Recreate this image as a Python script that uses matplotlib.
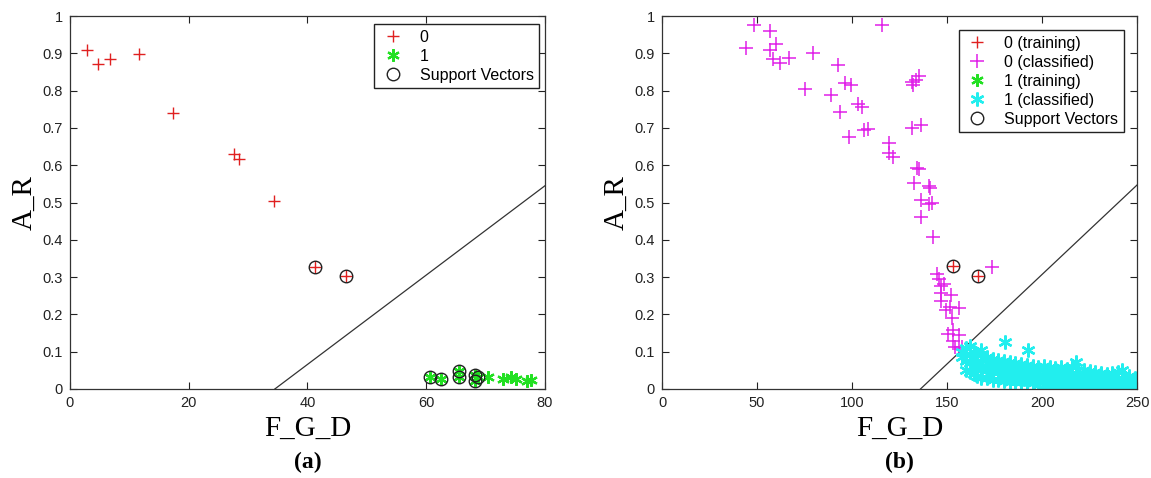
import matplotlib.pyplot as plt

# (a) training data
train0_x = [2.8, 4.8, 6.7, 11.6, 17.4, 27.6, 28.5, 34.4, 41.3, 46.5]
train0_y = [0.908, 0.872, 0.886, 0.897, 0.740, 0.630, 0.616, 0.504, 0.328, 0.302]
train1_x = [60.6, 62.5, 65.5, 65.5, 68.2, 68.2, 68.8, 70.4, 72.9, 74.2, 75.2, 76.9, 77.7]
train1_y = [0.032, 0.027, 0.048, 0.031, 0.038, 0.022, 0.033, 0.031, 0.026, 0.031, 0.028, 0.022, 0.025]
sv_a_x = [41.3, 46.5, 60.6, 62.5, 65.5, 65.5, 68.2, 68.2, 68.8]
sv_a_y = [0.328, 0.302, 0.032, 0.027, 0.048, 0.031, 0.038, 0.022, 0.033]
boundary_a_x = [34.5, 80.0]
boundary_a_y = [0.0, 0.545]

# (b) training support vectors and classified samples
sv_b_x = [153.3, 166.3]
sv_b_y = [0.331, 0.304]
class0_x = [44.4, 48.5, 56.9, 56.9, 59.8, 58.4, 62.3, 67.0, 75.1, 79.5,
            88.7, 92.5, 93.9, 96.4, 99.6, 98.3, 102.9, 105.4, 106.3, 108.2,
            115.9, 119.2, 119.7, 121.3, 131.6, 131.8, 132.2, 132.8, 133.5, 135.4,
            134.1, 135.1, 136.4, 136.4, 136.4, 140.4, 141.2, 140.4, 142.1, 142.7,
            144.6, 145.6, 146.9, 146.6, 148.5, 146.9, 149.4, 151.9, 151.3, 156.1,
            152.7, 150.4, 153.3, 156.5, 153.3, 154.2, 156.1, 157.7, 173.4]
class0_y = [0.915, 0.975, 0.959, 0.910, 0.924, 0.886, 0.874, 0.888, 0.805, 0.901,
            0.788, 0.870, 0.743, 0.821, 0.814, 0.676, 0.765, 0.755, 0.694, 0.696,
            0.977, 0.660, 0.633, 0.621, 0.700, 0.822, 0.814, 0.551, 0.829, 0.839,
            0.593, 0.589, 0.707, 0.507, 0.462, 0.545, 0.540, 0.496, 0.498, 0.407,
            0.309, 0.294, 0.275, 0.257, 0.282, 0.237, 0.211, 0.251, 0.221, 0.217,
            0.190, 0.148, 0.159, 0.145, 0.128, 0.112, 0.108, 0.112, 0.328]
class1_x = [158, 158,
            160, 160, 160, 160, 162, 162, 162, 162, 164, 164, 164, 164,
            166, 166, 166, 166, 168, 168, 168, 168, 168,
            171, 171, 171, 171, 174, 174, 174, 174, 177, 177, 177, 177,
            180, 180, 180, 180, 183, 183, 183, 183, 186, 186, 186, 186,
            189, 189, 189, 189, 192, 192, 192, 192, 195, 195, 195, 195,
            198, 198, 198, 198, 201, 201, 201, 201, 204, 204, 204, 204,
            207, 207, 207, 207, 210, 210, 210, 210, 213, 213, 213, 213,
            216, 216, 216, 216, 218, 219, 219, 219, 219, 222, 222, 222, 222,
            225, 225, 225, 225, 228, 228, 228, 228, 231, 231, 231, 231,
            234, 234, 234, 234, 237, 237, 237, 237, 240, 240, 240, 240, 242,
            243, 243, 243, 243, 246, 246, 246, 246, 249, 249, 249, 249,
            172.5, 178.5, 184.5, 190.5, 196.5, 202.5, 208.5, 214.5, 220.5,
            226.5, 232.5, 238.5, 244.5, 250,
            172.5, 178.5, 184.5, 190.5, 196.5, 202.5, 208.5, 214.5, 220.5,
            226.5, 232.5, 238.5, 244.5, 250,
            180.5, 192.8]
class1_y = [0.085, 0.100,
            0.050, 0.075, 0.095, 0.110, 0.045, 0.070, 0.090, 0.115, 0.040, 0.060, 0.080, 0.100,
            0.035, 0.055, 0.075, 0.095, 0.030, 0.050, 0.070, 0.090, 0.105,
            0.030, 0.050, 0.070, 0.085, 0.025, 0.045, 0.065, 0.080, 0.025, 0.045, 0.060, 0.078,
            0.022, 0.040, 0.058, 0.075, 0.020, 0.038, 0.055, 0.072, 0.020, 0.035, 0.055, 0.070,
            0.018, 0.035, 0.050, 0.068, 0.018, 0.032, 0.050, 0.065, 0.015, 0.030, 0.048, 0.062,
            0.012, 0.030, 0.045, 0.060, 0.012, 0.028, 0.045, 0.062, 0.010, 0.025, 0.042, 0.058,
            0.010, 0.025, 0.040, 0.056, 0.008, 0.022, 0.040, 0.058, 0.008, 0.022, 0.038, 0.054,
            0.006, 0.020, 0.036, 0.060, 0.072, 0.005, 0.020, 0.035, 0.052, 0.004, 0.018, 0.034, 0.050,
            0.003, 0.018, 0.032, 0.048, 0.000, 0.015, 0.030, 0.045, 0.002, 0.015, 0.028, 0.042,
            0.000, 0.012, 0.026, 0.040, 0.002, 0.012, 0.025, 0.042, 0.000, 0.012, 0.025, 0.045, 0.052,
            0.000, 0.010, 0.022, 0.038, 0.002, 0.010, 0.020, 0.035, 0.000, 0.008, 0.018, 0.030,
            0.038, 0.034, 0.030, 0.027, 0.024, 0.021, 0.018, 0.016, 0.013,
            0.010, 0.008, 0.006, 0.005, 0.015,
            0.058, 0.052, 0.048, 0.044, 0.040, 0.036, 0.033, 0.030, 0.028,
            0.026, 0.022, 0.020, 0.018, 0.025,
            0.127, 0.105]
boundary_b_x = [136.0, 250.0]
boundary_b_y = [0.0, 0.547]

RED = '#e02020'
GREEN = '#22e022'
MAGENTA = '#e020e8'
CYAN = '#22eeee'
STAR = (6, 2, 0)

plt.rcParams['font.family'] = ['Liberation Sans', 'DejaVu Sans']
fig = plt.figure(figsize=(11.51, 4.78), dpi=100)
ax_a = fig.add_axes([0.0608, 0.1862, 0.4127, 0.7803])
ax_b = fig.add_axes([0.5752, 0.1862, 0.4127, 0.7803])


def style_axes(ax, xmax, xticks, tag):
    ax.set_xlim(0, xmax)
    ax.set_ylim(0, 1)
    ax.set_xticks(xticks)
    ax.set_xticklabels([str(t) for t in xticks])
    yt = [i / 10 for i in range(11)]
    ax.set_yticks(yt)
    ax.set_yticklabels(['0'] + ['%.1f' % t for t in yt[1:-1]] + ['1'])
    ax.tick_params(direction='in', length=5, width=0.8, top=True, right=True,
                   labelsize=10.5, colors='#222222', pad=5)
    for s in ax.spines.values():
        s.set_linewidth(0.9)
        s.set_color('#333333')
    ax.set_xlabel('F_G_D', family=['Liberation Serif'], fontsize=21, labelpad=4)
    ax.set_ylabel('A_R', family=['Liberation Serif'], fontsize=21, labelpad=4)
    ax.text(0.5, -0.196, tag, transform=ax.transAxes, ha='center', va='center',
            family=['Liberation Serif'], fontsize=17, fontweight='bold')


def add_legend(ax, anchor):
    ax.legend(loc='upper right', bbox_to_anchor=anchor, fancybox=False,
              edgecolor='#222222', framealpha=1, fontsize=11.5, handletextpad=0.9,
              borderpad=0.35, labelspacing=0.25, handlelength=1.6, borderaxespad=0)


# (a)
ax_a.plot(boundary_a_x, boundary_a_y, color='#333333', lw=0.9)
ax_a.plot(train0_x, train0_y, '+', color=RED, ms=9, mew=1.0, label='0', ls='none')
ax_a.plot(train1_x, train1_y, marker=STAR, color=GREEN, ms=9, mew=1.6, label='1', ls='none')
ax_a.plot(sv_a_x, sv_a_y, 'o', mfc='none', mec='#222222', ms=9, mew=1.0,
          label='Support Vectors', ls='none')
style_axes(ax_a, 80, [0, 20, 40, 60, 80], '(a)')
add_legend(ax_a, (0.988, 0.978))

# (b)
ax_b.plot(boundary_b_x, boundary_b_y, color='#333333', lw=0.9)
ax_b.plot(sv_b_x, sv_b_y, '+', color=RED, ms=9, mew=1.0, label='0 (training)', ls='none')
ax_b.plot(class0_x, class0_y, '+', color=MAGENTA, ms=9.5, mew=1.1, label='0 (classified)', ls='none')
ax_b.plot([], [], marker=STAR, color=GREEN, ms=9, mew=1.6, label='1 (training)', ls='none')
ax_b.plot(class1_x, class1_y, marker=STAR, color=CYAN, ms=10, mew=1.7,
          label='1 (classified)', ls='none')
ax_b.plot(sv_b_x, sv_b_y, 'o', mfc='none', mec='#222222', ms=9, mew=1.0,
          label='Support Vectors', ls='none')
style_axes(ax_b, 250, [0, 50, 100, 150, 200, 250], '(b)')
add_legend(ax_b, (0.972, 0.962))

fig.savefig('out.png', dpi=100)
